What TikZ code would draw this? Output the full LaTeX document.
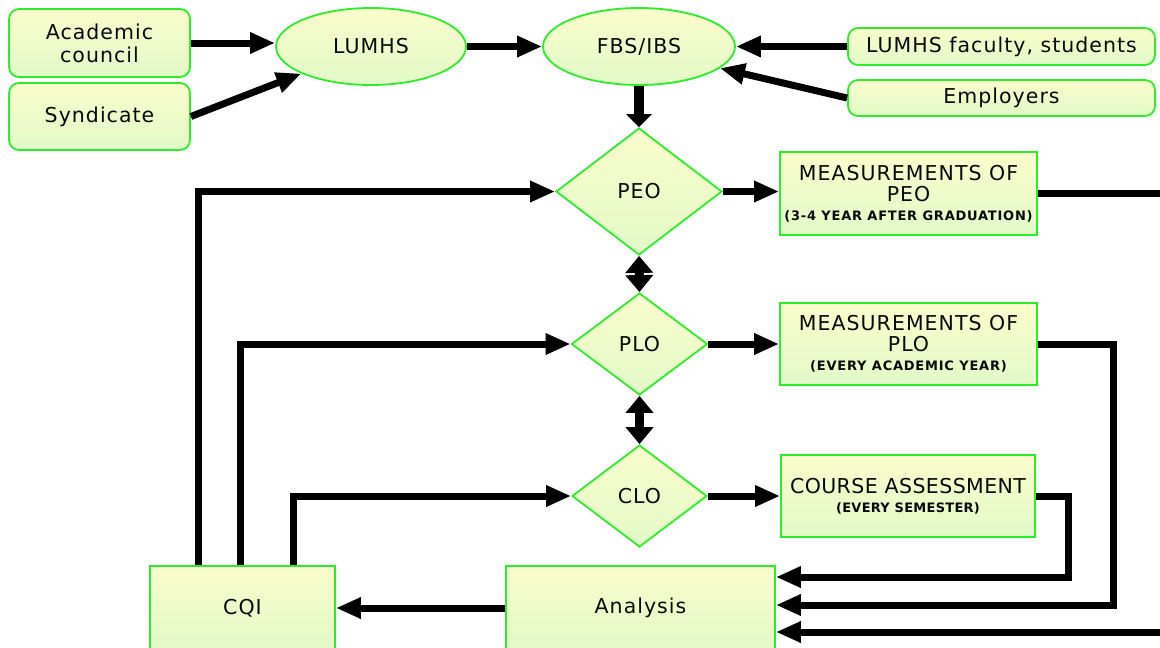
\documentclass[tikz,border=0pt]{standalone}
\usepackage{fontspec}
\setmainfont{DejaVu Sans}[LetterSpace=5]
\usetikzlibrary{shapes.geometric,arrows.meta,calc}
\definecolor{bordergreen}{RGB}{45,235,45}
\definecolor{filltop}{RGB}{250,253,204}
\definecolor{fillbot}{RGB}{226,250,200}
\definecolor{ink}{RGB}{10,10,10}
\begin{document}
\begin{tikzpicture}[x=1pt,y=-1pt,
  box/.style={draw=bordergreen,line width=1.8pt,top color=filltop,bottom color=fillbot,
    text=ink,font=\fontsize{20.5}{21}\selectfont,align=center,inner sep=0pt},
  rbox/.style={box,rectangle,rounded corners=10pt},
  sbox/.style={box,rectangle},
  oval/.style={box,ellipse},
  dia/.style={box,diamond},
  conn/.style={line width=7pt,-{Triangle[length=25pt,width=20pt]}},
  sconn/.style={line width=9.5pt,-{Triangle[length=13pt,width=25pt]}},
  dconn/.style={line width=9pt,{Triangle[length=17pt,width=27pt]}-{Triangle[length=17pt,width=27pt]}}
]
\useasboundingbox (0,0) rectangle (1160,648);
\clip (0,0) rectangle (1160,648);

% top row
\node[rbox,minimum width=181pt,minimum height=68pt] (ac) at (99.5,43) {Academic\\[2pt]council};
\node[rbox,minimum width=181pt,minimum height=67pt] (syn) at (99.5,116.5) {Syndicate};
\node[oval,minimum width=190pt,minimum height=77pt] (lumhs) at (371,46.5) {LUMHS};
\node[oval,minimum width=192pt,minimum height=77pt] (fbs) at (639,46.5) {FBS/IBS};
\node[rbox,minimum width=307pt,minimum height=37pt] (fac) at (1001.5,46.5) {LUMHS faculty, students};
\node[rbox,minimum width=307pt,minimum height=36pt] (emp) at (1001.5,98) {Employers};

% diamonds
\node[dia,minimum width=166pt,minimum height=127pt] (peo) at (639,191.5) {PEO};
\node[dia,minimum width=136pt,minimum height=102pt] (plo) at (639.5,344) {PLO};
\node[dia,minimum width=135pt,minimum height=102pt] (clo) at (639.5,496) {CLO};

% measurement boxes
\node[sbox,minimum width=257pt,minimum height=83pt] (peom) at (908.5,193.5)
  {MEASUREMENTS OF\\PEO\\[-2pt]{\fontsize{13}{14}\selectfont\bfseries\addfontfeature{LetterSpace=6} (3-4 YEAR AFTER GRADUATION)}};
\node[sbox,minimum width=257pt,minimum height=82pt] (plom) at (908.5,344)
  {MEASUREMENTS OF\\PLO\\[-2pt]{\fontsize{13}{14}\selectfont\bfseries\addfontfeature{LetterSpace=6} (EVERY ACADEMIC YEAR)}};
\node[sbox,minimum width=254pt,minimum height=82pt] (course) at (908,496)
  {{\addfontfeature{LetterSpace=2}COURSE ASSESSMENT}\\[-2pt]{\fontsize{13}{14}\selectfont\bfseries\addfontfeature{LetterSpace=2} (EVERY SEMESTER)}};

% bottom boxes
\node[sbox,minimum width=269pt,minimum height=84pt] (ana) at (640.5,608) {Analysis};
\node[sbox,minimum width=185pt,minimum height=84pt] (cqi) at (242.5,608) {CQI};

% connectors
\draw[conn] (ac.east) -- (ac.east -| lumhs.west);
\draw[conn] (syn.east) -- (lumhs);
\draw[conn] (lumhs.east) -- (fbs.west);
\draw[conn] (fac.west) -- (fbs.east);
\draw[conn] (emp.west) -- (fbs.-15);
\draw[sconn] (fbs.south) -- (peo.north);
\draw[dconn] (peo.south) -- (plo.north);
\draw[dconn] (plo.south) -- (clo.north);
\draw[conn] (peo.east) -- (peo.east -| peom.west);
\draw[conn] (plo.east) -- (plom.west);
\draw[conn] (clo.east) -- (course.west);

\draw[conn] ([xshift=-44.5pt]cqi.north) |- (peo.west);
\draw[conn] ([xshift=-2.5pt]cqi.north) |- (plo.west);
\draw[conn] ([xshift=50.5pt]cqi.north) |- (clo.west);

\draw[conn] (course.east) -- ++(33,0) |- ($(ana.east)+(0,-31)$);
\draw[conn] (plom.east) -- ++(76,0) |- ($(ana.east)+(0,-3)$);
\draw[conn] (peom.east) -- ++(200,0) |- ($(ana.east)+(0,24)$);
\draw[conn] (ana.west) -- (cqi.east);
\end{tikzpicture}
\end{document}
